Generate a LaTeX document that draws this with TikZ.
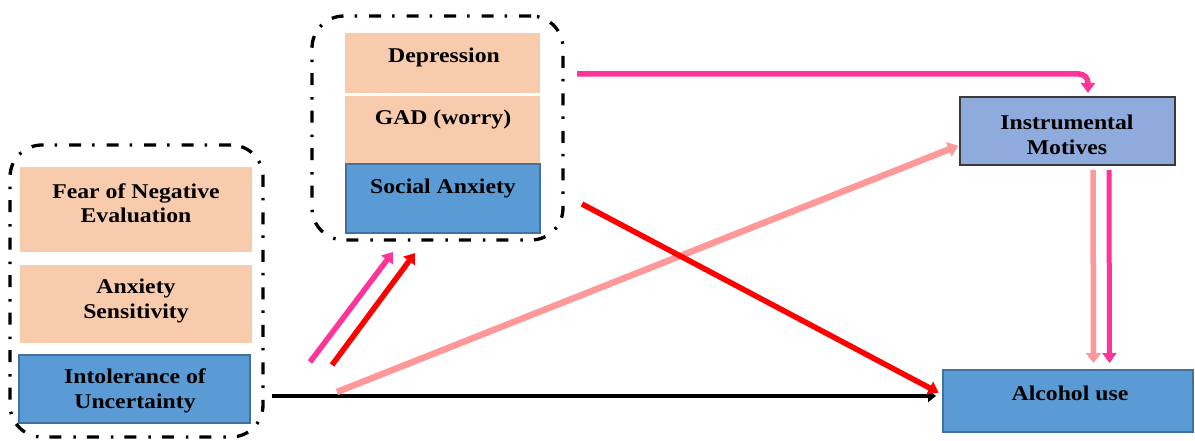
\documentclass[tikz,border=0pt]{standalone}
\usepackage{fontspec}
\setmainfont{Liberation Serif}[FakeStretch=1.13]
\usetikzlibrary{arrows.meta,calc}

\definecolor{peach}{HTML}{F8CBAD}
\definecolor{boxblue}{HTML}{5B9BD5}
\definecolor{boxblueline}{HTML}{41719C}
\definecolor{motblue}{HTML}{8FAADC}
\definecolor{motline}{HTML}{3A3A3A}
\definecolor{magentapath}{HTML}{FF3399}
\definecolor{redpath}{HTML}{FF0000}
\definecolor{pinkpath}{HTML}{FF9999}

\tikzset{
  box/.style={rectangle, inner sep=0pt, outer sep=0pt},
  peachbox/.style={box, fill=peach},
  bluebox/.style={box, fill=boxblue, draw=boxblueline, line width=1.2pt},
  motbox/.style={box, fill=motblue, draw=motline, line width=2pt},
  groupbox/.style={box, draw=black, line width=3.3pt, rounded corners=32pt,
    dash pattern=on 12pt off 12pt on 2.5pt off 11pt},
  lbl/.style={align=center, font=\bfseries\fontsize{21}{24.5}\selectfont, inner sep=0pt},
  magentaarrow/.style={line width=5.5pt, draw=magentapath, -{Triangle[width=14pt,length=10pt,fill=magentapath]}},
  redarrow/.style={line width=5.5pt, draw=redpath, -{Triangle[width=14pt,length=10pt,fill=redpath]}},
  pinkarrow/.style={line width=6.5pt, draw=pinkpath, -{Triangle[width=15pt,length=10pt,fill=pinkpath]}},
  blackarrow/.style={line width=4.5pt, draw=black, -{Triangle[width=12pt,length=8pt,fill=black]}},
}

\begin{document}
\begin{tikzpicture}[x=1pt, y=-1pt]
\useasboundingbox (0,0) rectangle (1195,441);

% left group: trait vulnerabilities
\node[peachbox, minimum width=232pt, minimum height=85pt] (fne) at (136,209.5) {};
\node[peachbox, minimum width=232pt, minimum height=78pt] (as) at (136,304) {};
\node[bluebox, minimum width=231pt, minimum height=68pt] (iu) at (134.5,389) {};
\node[lbl] (fnet) at (136,203) {Fear of Negative\\Evaluation};
\node[lbl] (ast) at (136,301) {Anxiety\\Sensitivity};
\node[lbl] (iut) at (135,391) {Intolerance of\\Uncertainty};
\node[groupbox, minimum width=253pt, minimum height=292pt] (g1) at (136.5,291) {};

% middle group: symptoms
\node[peachbox, minimum width=195pt, minimum height=60pt] (dep) at (442.5,63) {};
\node[peachbox, minimum width=195pt, minimum height=67pt] (gad) at (442.5,129.5) {};
\node[bluebox, minimum width=194pt, minimum height=69pt] (sa) at (443,198.5) {};
\node[lbl] (dept) at (444,57) {Depression};
\node[lbl] (gadt) at (443,119) {GAD (worry)};
\node[lbl] (sat) at (443,188) {Social Anxiety};
\node[groupbox, minimum width=251pt, minimum height=224pt] (g2) at (437.5,128) {};

% outcomes
\node[motbox, minimum width=215pt, minimum height=68pt] (im) at (1067.5,131) {};
\node[lbl] (imt) at (1067,135) {Instrumental\\Motives};
\node[bluebox, minimum width=250pt, minimum height=62pt] (al) at (1068,401) {};
\node[lbl] (alt) at (1070,393) {Alcohol use};

% free ends of the paths
\coordinate (depout) at (577,74);
\coordinate (magin) at (310,362);
\coordinate (redin) at (332,365);
\coordinate (magtip) at (393,252);
\coordinate (redtip) at (415,253);
\coordinate (saout) at (582,204);
\coordinate (iupink) at (337,392);
\coordinate (iublack) at (272,396);

% paths
\draw[magentaarrow, rounded corners=9pt] (depout) -| ([xshift=20.5pt,yshift=4pt]im.north);
\draw[magentaarrow] (magin) -- (magtip);
\draw[redarrow] (redin) -- (redtip);
\draw[blackarrow] (iublack) -- ([xshift=-7pt]iublack -| al.west);
\draw[pinkarrow, shorten >=2pt] (iupink) -- ([yshift=-14pt]im.west);
\draw[redarrow, shorten >=5pt] (saout) -- ([yshift=6pt]al.west);
\draw[pinkarrow, line width=5.5pt, shorten <=5pt, shorten >=7pt] ([xshift=25.5pt]im.south) -- ([xshift=25.5pt]al.north);
\draw[magentaarrow, line width=5pt, shorten <=5pt, shorten >=7pt] ([xshift=41.5pt]im.south) -- ([xshift=41.5pt]al.north);
\end{tikzpicture}
\end{document}
